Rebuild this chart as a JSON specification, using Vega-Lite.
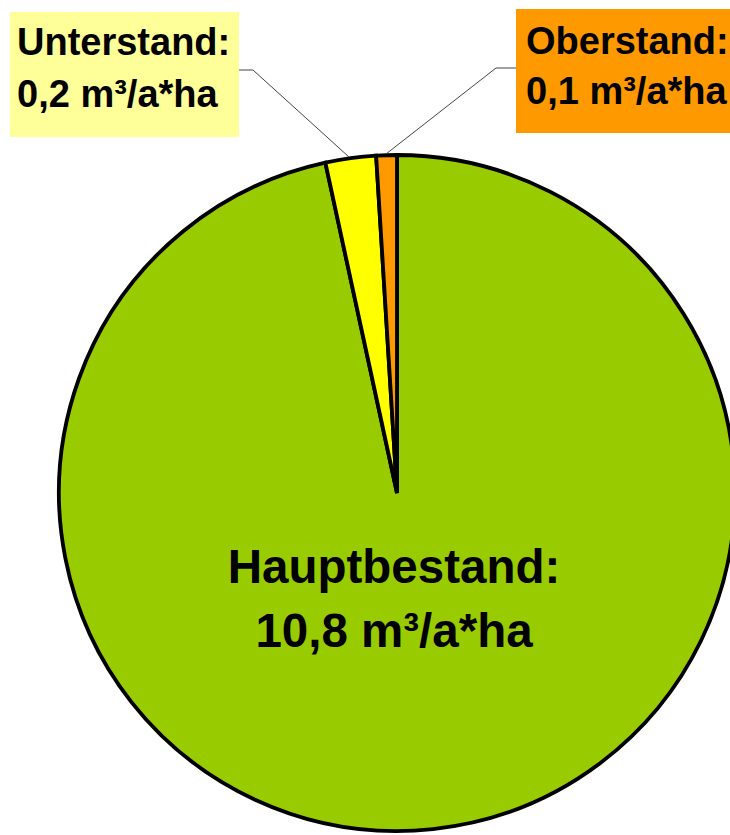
{
  "$schema": "https://vega.github.io/schema/vega-lite/v6.json",
  "width": 730,
  "height": 835,
  "padding": 0,
  "autosize": {"type": "none"},
  "background": "white",
  "config": {"view": {"stroke": null}},
  "data": {
    "values": [
      {"cat": "Hauptbestand", "value": 10.8, "label": "Hauptbestand:\n10,8 m³/a*ha"},
      {"cat": "Unterstand", "value": 0.27, "label": "Unterstand:\n0,2 m³/a*ha"},
      {"cat": "Oberstand", "value": 0.11, "label": "Oberstand:\n0,1 m³/a*ha"}
    ]
  },
  "layer": [
    {
      "mark": {"type": "arc", "outerRadius": 338, "stroke": "black", "strokeWidth": 3.8},
      "encoding": {
        "theta": {"field": "value", "type": "quantitative", "stack": true},
        "order": {"field": "value", "type": "quantitative", "sort": "descending"},
        "color": {
          "field": "cat",
          "type": "nominal",
          "scale": {"domain": ["Hauptbestand", "Unterstand", "Oberstand"], "range": ["#99CC00", "#FFFF00", "#FF9900"]},
          "legend": null
        },
        "x": {"datum": 397, "type": "quantitative", "scale": {"domain": [0, 730], "nice": false, "zero": false}, "axis": null},
        "y": {"datum": 493, "type": "quantitative", "scale": {"domain": [0, 835], "nice": false, "zero": false, "reverse": true}, "axis": null}
      }
    },
    {
      "transform": [{"filter": "datum.cat === 'Unterstand'"}],
      "mark": {"type": "rule", "color": "#444444", "strokeWidth": 1},
      "encoding": {
        "x": {"datum": 239, "type": "quantitative"},
        "y": {"datum": 70, "type": "quantitative"},
        "x2": {"datum": 253},
        "y2": {"datum": 70}
      }
    },
    {
      "transform": [{"filter": "datum.cat === 'Unterstand'"}],
      "mark": {"type": "rule", "color": "#444444", "strokeWidth": 1},
      "encoding": {
        "x": {"datum": 253, "type": "quantitative"},
        "y": {"datum": 70, "type": "quantitative"},
        "x2": {"datum": 349},
        "y2": {"datum": 157}
      }
    },
    {
      "transform": [{"filter": "datum.cat === 'Oberstand'"}],
      "mark": {"type": "rule", "color": "#444444", "strokeWidth": 1},
      "encoding": {
        "x": {"datum": 496, "type": "quantitative"},
        "y": {"datum": 68, "type": "quantitative"},
        "x2": {"datum": 516},
        "y2": {"datum": 68}
      }
    },
    {
      "transform": [{"filter": "datum.cat === 'Oberstand'"}],
      "mark": {"type": "rule", "color": "#444444", "strokeWidth": 1},
      "encoding": {
        "x": {"datum": 496, "type": "quantitative"},
        "y": {"datum": 68, "type": "quantitative"},
        "x2": {"datum": 386},
        "y2": {"datum": 154}
      }
    },
    {
      "transform": [{"filter": "datum.cat === 'Unterstand'"}],
      "mark": {"type": "rect", "color": "#FFFF99"},
      "encoding": {
        "x": {"datum": 10, "type": "quantitative"},
        "x2": {"datum": 239},
        "y": {"datum": 12, "type": "quantitative"},
        "y2": {"datum": 137}
      }
    },
    {
      "transform": [{"filter": "datum.cat === 'Oberstand'"}],
      "mark": {"type": "rect", "color": "#FF9900"},
      "encoding": {
        "x": {"datum": 516, "type": "quantitative"},
        "x2": {"datum": 745},
        "y": {"datum": 9, "type": "quantitative"},
        "y2": {"datum": 133}
      }
    },
    {
      "transform": [{"filter": "datum.cat === 'Unterstand'"}],
      "mark": {"type": "text", "font": "Liberation Sans", "fontWeight": "bold", "fontSize": 38, "align": "left", "baseline": "alphabetic", "lineBreak": "\n", "lineHeight": 52, "color": "black"},
      "encoding": {
        "x": {"datum": 17, "type": "quantitative"},
        "y": {"datum": 55, "type": "quantitative"},
        "text": {"field": "label"}
      }
    },
    {
      "transform": [{"filter": "datum.cat === 'Oberstand'"}],
      "mark": {"type": "text", "font": "Liberation Sans", "fontWeight": "bold", "fontSize": 38, "align": "left", "baseline": "alphabetic", "lineBreak": "\n", "lineHeight": 50, "color": "black"},
      "encoding": {
        "x": {"datum": 526, "type": "quantitative"},
        "y": {"datum": 54, "type": "quantitative"},
        "text": {"field": "label"}
      }
    },
    {
      "transform": [{"filter": "datum.cat === 'Hauptbestand'"}],
      "mark": {"type": "text", "font": "Liberation Sans", "fontWeight": "bold", "fontSize": 47.5, "align": "center", "baseline": "alphabetic", "lineBreak": "\n", "lineHeight": 64, "color": "black"},
      "encoding": {
        "x": {"datum": 394, "type": "quantitative"},
        "y": {"datum": 583, "type": "quantitative"},
        "text": {"field": "label"}
      }
    }
  ]
}
